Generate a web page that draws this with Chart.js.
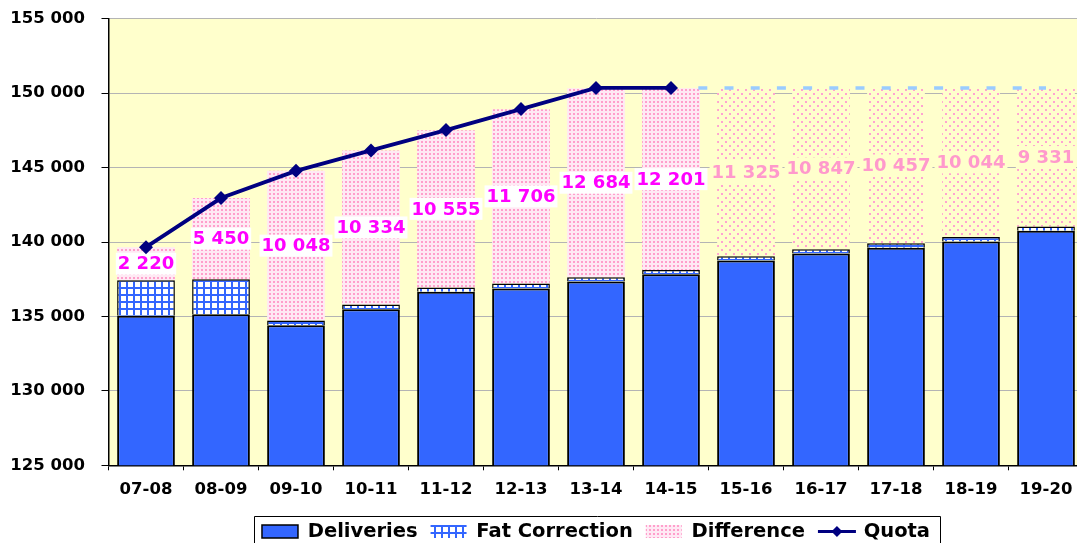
<!DOCTYPE html>
<html>
<head>
<meta charset="utf-8">
<script src="https://cdn.jsdelivr.net/npm/chart.js@4/dist/chart.umd.min.js"></script>
<style>
html,body{margin:0;padding:0;overflow:hidden;background:#ffffff;}
#wrap{width:1090px;height:552px;}
</style>
</head>
<body>
<div id="wrap"><canvas id="c" width="1090" height="552"></canvas></div>
<script>
// ---- data ----
const categories = ['07-08','08-09','09-10','10-11','11-12','12-13','13-14','14-15','15-16','16-17','17-18','18-19','19-20'];
const deliveries = [135050,135150,134400,135480,136660,136880,137340,137840,138760,139230,139620,140040,140760];
const fatCorrection = [2380,2350,330,330,290,330,300,280,280,290,290,290,280];
const difference = [2220,5450,10048,10334,10555,11706,12684,12201,11325,10847,10457,10044,9331];
const quota = [139650,142950,144780,146150,147520,148930,150350,150350,null,null,null,null,null];
const quotaPlan = [null,null,null,null,null,null,null,150350,150350,150350,150350,150350,150350];
const forecastFrom = 8;
const yMin = 125000, yMax = 155000, yStep = 5000;

function fmt(v){ return String(v).replace(/\B(?=(\d{3})+(?!\d))/g, ' '); }

const canvas = document.getElementById('c');
const ctx = canvas.getContext('2d');

function makePattern(size, draw){
  const t = document.createElement('canvas');
  t.width = size; t.height = size;
  const x = t.getContext('2d');
  draw(x);
  return ctx.createPattern(t, 'repeat');
}
const fatPat = makePattern(7, x => {
  x.fillStyle = '#ffffff'; x.fillRect(0,0,7,7);
  x.fillStyle = '#3366ff'; x.fillRect(0,0,7,2); x.fillRect(0,0,2,7);
});
const histPat = makePattern(4, x => {
  x.fillStyle = '#ffe9f4'; x.fillRect(0,0,4,4);
  x.fillStyle = '#ff9fcc'; x.fillRect(1,1,2,2);
});
const futPat = makePattern(8, x => {
  x.fillStyle = '#ffffcc'; x.fillRect(0,0,8,8);
  x.fillStyle = '#ffa3d1'; x.fillRect(1,1,2,2); x.fillRect(5,5,2,2);
});
const diffColors = categories.map((c,i) => i < forecastFrom ? histPat : futPat);

const planDash = [0, 27.3];
for (let k = 0; k < 16; k++) planDash.push(9, 17.2);

const fontFamily = '"DejaVu Sans", "Liberation Sans", sans-serif';

const decor = {
  id: 'decor',
  beforeDraw(chart){
    const a = chart.chartArea, c = chart.ctx;
    c.save();
    c.fillStyle = '#ffffcc';
    c.fillRect(a.left, a.top, a.right - a.left, a.bottom - a.top);
    c.restore();
  },
  afterDatasetDraw(chart, args){
    if (args.index !== 2) return;
    const c = chart.ctx;
    c.save();
    c.font = 'bold 18px ' + fontFamily;
    c.textAlign = 'center';
    c.textBaseline = 'middle';
    args.meta.data.forEach((el, i) => {
      const future = i >= forecastFrom;
      const txt = fmt(difference[i]);
      const w = c.measureText(txt).width + 4;
      const cy = (el.y + el.base) / 2;
      c.fillStyle = future ? '#ffffcc' : '#ffffff';
      c.fillRect(el.x - w/2, cy - 11, w, 22);
      c.fillStyle = future ? '#ff99cc' : '#ff00ff';
      c.fillText(txt, el.x, cy + 1);
    });
    c.restore();
  },
  afterDraw(chart){
    const lg = chart.legend, c = chart.ctx;
    if (!lg || !lg.legendHitBoxes || !lg.legendHitBoxes.length) return;
    const hbs = lg.legendHitBoxes;
    const items = lg.legendItems;
    const first = hbs[0], last = hbs[hbs.length - 1];
    const cy = first.top + first.height / 2;
    c.save();
    c.strokeStyle = '#000000';
    c.lineWidth = 1;
    const L = Math.round(first.left - 7.5) + 0.5;
    const R = Math.round(last.left + last.width + 10) + 0.5;
    const T = Math.round(cy - 15.5) + 0.5;
    c.beginPath();
    c.moveTo(L, chart.height + 2);
    c.lineTo(L, T);
    c.lineTo(R, T);
    c.lineTo(R, chart.height + 2);
    c.stroke();
    const qi = items.findIndex(it => it.text === 'Quota');
    if (qi >= 0) {
      const hb = hbs[qi];
      const y = hb.top + hb.height / 2;
      c.strokeStyle = '#000080';
      c.lineWidth = 3;
      c.beginPath();
      c.moveTo(hb.left, y);
      c.lineTo(hb.left + 38, y);
      c.stroke();
      c.fillStyle = '#000080';
      const mx = hb.left + 19, r = 5.5;
      c.beginPath();
      c.moveTo(mx, y - r); c.lineTo(mx + r, y); c.lineTo(mx, y + r); c.lineTo(mx - r, y);
      c.closePath(); c.fill();
    }
    c.restore();
  }
};

new Chart(ctx, {
  type: 'bar',
  data: {
    labels: categories,
    datasets: [
      { label: 'Deliveries', data: deliveries, backgroundColor: '#3366ff', borderColor: '#000000', borderWidth: 2, stack: 's', order: 2 },
      { label: 'Fat Correction', data: fatCorrection, backgroundColor: fatPat, borderColor: '#000000', borderWidth: 1.5, stack: 's', order: 2 },
      { label: 'Difference', data: difference, backgroundColor: diffColors, borderWidth: 0, stack: 's', order: 2 },
      { type: 'line', label: 'Quota', data: quota, stack: 'q', borderColor: '#000080', backgroundColor: '#000080',
        borderWidth: 3.8, pointStyle: 'rectRot', pointRadius: 7, pointHoverRadius: 7, pointBorderWidth: 0,
        pointBackgroundColor: '#000080', tension: 0, spanGaps: false, order: 0 },
      { type: 'line', label: 'Quota plan', data: quotaPlan, stack: 'p', borderColor: '#99ccff',
        borderWidth: 3.5, borderDash: planDash, pointRadius: 0, pointHoverRadius: 0, tension: 0, order: 1 }
    ]
  },
  options: {
    responsive: false,
    devicePixelRatio: 1,
    animation: false,
    events: [],
    datasets: { bar: { barPercentage: 0.77, categoryPercentage: 1.0 } },
    layout: { autoPadding: false, padding: { left: 0, top: 18.7, right: 6.5, bottom: 0.75 } },
    scales: {
      x: {
        stacked: true,
        offset: true,
        grid: { offset: true, drawOnChartArea: false, drawTicks: true, tickLength: 5, tickColor: '#000000' },
        border: { color: '#000000', width: 1.5 },
        ticks: { color: '#000000', padding: 10, maxRotation: 0, autoSkip: false,
                 font: { family: fontFamily, weight: 'bold', size: 16.5 } },
        afterFit: s => { s.height = 43.45; }
      },
      y: {
        stacked: true,
        min: yMin, max: yMax,
        grid: { color: '#b4b4b4', lineWidth: 1, tickLength: 7, tickColor: '#000000' },
        border: { color: '#000000', width: 1.5 },
        ticks: { stepSize: yStep, color: '#000000', padding: 16.5,
                 font: { family: fontFamily, weight: 'bold', size: 16.5 },
                 callback: v => fmt(v) },
        afterFit: s => { s.width = 108.5; s.paddingTop = 0; s.paddingBottom = 0; }
      }
    },
    plugins: {
      tooltip: { enabled: false },
      legend: {
        position: 'bottom',
        fullSize: false,
        align: 'center',
        labels: {
          boxWidth: 36, boxHeight: 13, padding: 13, color: '#000000',
          font: { family: fontFamily, weight: 'bold', size: 19.5 },
          sort: (a, b) => a.datasetIndex - b.datasetIndex,
          filter: it => it.text !== 'Quota plan',
          generateLabels: chart => {
            const items = Chart.defaults.plugins.legend.labels.generateLabels(chart);
            items.forEach(it => {
              if (it.text === 'Deliveries') { it.fillStyle = '#3366ff'; it.strokeStyle = '#000000'; it.lineWidth = 1.5; }
              else if (it.text === 'Fat Correction') { it.fillStyle = fatPat; it.strokeStyle = 'rgba(0,0,0,0)'; it.lineWidth = 0; }
              else if (it.text === 'Difference') { it.fillStyle = histPat; it.strokeStyle = 'rgba(0,0,0,0)'; it.lineWidth = 0; }
              else if (it.text === 'Quota') { it.fillStyle = 'rgba(0,0,0,0)'; it.strokeStyle = 'rgba(0,0,0,0)'; it.lineWidth = 0; }
            });
            return items;
          }
        }
      }
    }
  },
  plugins: [decor]
});
</script>
</body>
</html>
